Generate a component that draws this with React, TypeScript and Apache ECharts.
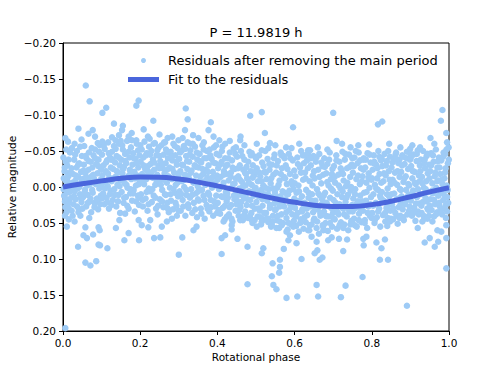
import React, { useEffect, useRef } from "react";
import * as echarts from "echarts";

const TITLE = "P = 11.9819 h";
const SCATTER_NAME = "Residuals after removing the main period";
const FIT_NAME = "Fit to the residuals";
const X_NAME = "Rotational phase";
const Y_NAME = "Relative magnitude";

const fitPhase = [0, 0.05, 0.1, 0.15, 0.2, 0.25, 0.3, 0.35, 0.4, 0.45, 0.5, 0.55, 0.6, 0.65, 0.7, 0.75, 0.8, 0.85, 0.9, 0.95, 1.0];
const fitMag = [0.0, -0.0045, -0.0085, -0.012, -0.0138, -0.0135, -0.011, -0.0068, -0.0015, 0.0045, 0.0105, 0.0163, 0.0213, 0.0252, 0.0272, 0.027, 0.0245, 0.0198, 0.0135, 0.0068, 0.001];

const coreA = [
[.001,-.041],[.002,-.012],[.003,.012],[.004,-.022],[.005,.020],[.006,.028],[.007,-.035],[.008,-.008],[.009,.035],[.010,.008],[.011,-.030],[.012,-.019],[.013,.004],[.014,-.015],[.015,.030],[.016,.019],[.017,-.005],[.018,-.048],[.019,-.002],[.021,.015],[.022,-.026],[.024,.001],
[.026,-.018],[.027,.024],[.029,-.038],[.030,.006],[.032,-.009],[.033,.017],[.035,-.027],[.036,-.050],[.038,.002],[.039,-.014],[.041,.031],[.042,-.033],[.044,.010],[.045,-.004],[.047,-.021],[.048,.021],[.049,-.043],
[.051,-.011],[.052,.014],[.054,-.031],[.055,-.057],[.057,.004],[.058,-.019],[.060,.027],[.061,-.040],[.063,-.002],[.064,.011],[.066,-.024],[.067,-.048],[.069,.020],[.070,-.008],[.072,-.035],[.073,.035],[.074,-.015],
[.076,-.027],[.077,.008],[.079,-.044],[.080,-.012],[.082,.022],[.083,-.052],[.085,-.004],[.086,-.032],[.088,.016],[.089,-.019],[.091,.031],[.092,-.038],[.094,.002],[.095,-.058],[.097,-.010],[.098,.012],[.099,-.024],
[.101,-.045],[.102,-.016],[.104,.009],[.105,-.030],[.107,.024],[.108,-.053],[.110,-.006],[.111,-.022],[.113,.015],[.114,-.037],[.116,-.001],[.117,-.062],[.119,.030],[.120,-.013],[.122,-.041],[.123,.005],[.124,-.027],
[.126,-.008],[.127,-.049],[.129,.018],[.130,-.025],[.132,-.057],[.133,.003],[.135,-.034],[.136,-.014],[.138,.027],[.139,-.043],[.141,-.003],[.142,-.020],[.144,.011],[.145,-.060],[.147,-.030],[.148,.036],[.149,-.010],
[.151,-.038],[.152,.007],[.154,-.019],[.155,-.052],[.157,.022],[.158,-.028],[.160,-.005],[.161,-.046],[.163,.014],[.164,-.033],[.166,-.064],[.167,.001],[.169,-.015],[.170,.030],[.172,-.041],[.173,-.024],[.174,.009],
[.176,-.055],[.177,-.011],[.179,.019],[.180,-.031],[.182,-.047],[.183,.004],[.185,-.021],[.186,.034],[.188,-.039],[.189,-.002],[.191,-.060],[.192,-.016],[.194,.012],[.195,-.027],[.197,.025],[.198,-.044],[.199,-.008],
[.201,-.035],[.202,.010],[.204,-.052],[.205,-.018],[.207,.027],[.208,-.041],[.210,-.004],[.211,-.063],[.213,-.025],[.214,.016],[.216,-.011],[.217,-.047],[.219,.033],[.220,-.029],[.222,.002],[.223,-.056],[.224,-.019],
[.226,.006],[.227,-.032],[.229,-.050],[.230,.021],[.232,-.013],[.233,-.038],[.235,.012],[.236,-.024],[.238,-.061],[.239,-.003],[.241,.030],[.242,-.044],[.244,-.017],[.245,.038],[.247,-.029],[.248,-.055],[.249,-.008],
[.251,.017],[.252,-.036],[.254,-.012],[.255,-.058],[.257,.004],[.258,-.026],[.260,.028],[.261,-.045],[.263,-.019],[.264,.010],[.266,-.033],[.267,-.052],[.269,-.006],[.270,.022],[.272,-.040],[.273,-.015],[.274,.035],
[.276,-.027],[.277,.001],[.279,-.049],[.280,.019],[.282,-.011],[.283,-.037],[.285,.031],[.286,-.060],[.288,-.020],[.289,.008],[.291,-.044],[.292,-.003],[.294,.026],[.295,-.031],[.297,-.054],[.298,.013],[.299,-.016]
];

const coreB = [
[.301,-.039],[.302,.006],[.304,-.022],[.305,.033],[.307,-.050],[.308,-.008],[.310,.018],[.311,-.030],[.313,-.057],[.314,.000],[.316,-.017],[.317,.040],[.319,-.043],[.320,.011],[.322,-.025],[.323,-.062],[.324,.024],
[.326,-.012],[.327,-.035],[.329,.015],[.330,-.051],[.332,.003],[.333,-.023],[.335,.036],[.336,-.042],[.338,-.006],[.339,.022],[.341,-.030],[.342,-.056],[.344,.009],[.345,-.016],[.347,.042],[.348,-.038],[.349,-.001],
[.351,-.027],[.352,.019],[.354,-.046],[.355,-.009],[.357,.030],[.358,-.034],[.360,.004],[.361,-.058],[.363,-.018],[.364,.012],[.366,-.040],[.367,.044],[.369,-.003],[.370,-.024],[.372,.025],[.373,-.050],[.374,-.013],
[.376,.008],[.377,-.030],[.379,.034],[.380,-.052],[.382,-.011],[.383,.018],[.385,-.039],[.386,.001],[.388,-.021],[.389,.040],[.391,-.055],[.392,-.005],[.394,.027],[.395,-.033],[.397,.012],[.398,-.046],[.399,-.016],
[.401,.022],[.402,-.026],[.404,.003],[.405,-.044],[.407,.037],[.408,-.014],[.410,.013],[.411,-.035],[.413,-.056],[.414,.029],[.416,-.006],[.417,-.022],[.419,.045],[.420,-.040],[.422,.007],[.423,-.018],[.424,.020],
[.426,-.031],[.427,.015],[.429,-.009],[.430,.038],[.432,-.048],[.433,.002],[.435,-.020],[.436,.025],[.438,-.037],[.439,.048],[.441,-.004],[.442,-.053],[.444,.017],[.445,-.025],[.447,.033],[.448,-.012],[.449,.006],
[.451,-.042],[.452,.020],[.454,-.015],[.455,.040],[.457,.002],[.458,-.030],[.460,.028],[.461,-.050],[.463,.011],[.464,-.007],[.466,.046],[.467,-.024],[.469,.016],[.470,-.038],[.472,.034],[.473,-.002],[.474,-.018],
[.476,.025],[.477,-.012],[.479,.043],[.480,-.035],[.482,.006],[.483,-.049],[.485,.018],[.486,-.022],[.488,.036],[.489,-.003],[.491,.050],[.492,-.030],[.494,.012],[.495,-.016],[.497,.030],[.498,-.042],[.499,.001],
[.501,.021],[.502,-.026],[.504,.041],[.505,-.008],[.507,.013],[.508,-.044],[.510,.033],[.511,-.015],[.513,.052],[.514,.004],[.516,-.034],[.517,.026],[.519,-.002],[.520,.045],[.522,-.021],[.523,.010],[.524,-.050],
[.526,.036],[.527,-.011],[.529,.019],[.530,-.039],[.532,.049],[.533,.003],[.535,-.024],[.536,.029],[.538,-.005],[.539,.055],[.541,-.031],[.542,.014],[.544,.040],[.545,-.017],[.547,.023],[.548,-.045],[.549,.007],
[.551,.031],[.552,-.020],[.554,.046],[.555,.001],[.557,-.036],[.558,.022],[.560,.057],[.561,-.009],[.563,.013],[.564,-.048],[.566,.038],[.567,-.026],[.569,.006],[.570,.050],[.572,-.014],[.573,.027],[.574,-.040],
[.576,.017],[.577,-.030],[.579,.043],[.580,-.004],[.582,.059],[.583,.010],[.585,-.046],[.586,.032],[.588,-.018],[.589,.024],[.591,.052],[.592,-.008],[.594,.038],[.595,-.037],[.597,.003],[.598,.047],[.599,-.023]
];

const coreC = [
[.601,.029],[.602,-.015],[.604,.054],[.605,.008],[.607,-.041],[.608,.036],[.610,-.002],[.611,.062],[.613,.019],[.614,-.027],[.616,.045],[.617,-.050],[.619,.013],[.620,.031],[.622,-.010],[.623,.058],[.624,-.033],
[.626,.022],[.627,-.020],[.629,.049],[.630,.004],[.632,-.037],[.633,.039],[.635,-.047],[.636,.015],[.638,.060],[.639,-.008],[.641,.027],[.642,-.030],[.644,.052],[.645,.010],[.647,-.016],[.648,.035],[.649,-.043],
[.651,.044],[.652,-.012],[.654,.019],[.655,-.035],[.657,.057],[.658,.003],[.660,.030],[.661,-.024],[.663,.065],[.664,-.046],[.666,.012],[.667,.040],[.669,-.005],[.670,.024],[.672,-.029],[.673,.053],[.674,-.017],
[.676,.034],[.677,-.040],[.679,.008],[.680,.050],[.682,-.019],[.683,.022],[.685,-.032],[.686,.061],[.688,-.002],[.689,.041],[.691,-.048],[.692,.015],[.694,-.011],[.695,.029],[.697,.055],[.698,-.025],[.699,.005],
[.701,.018],[.702,-.029],[.704,.045],[.705,-.006],[.707,.032],[.708,-.044],[.710,.058],[.711,.010],[.713,-.017],[.714,.038],[.716,-.035],[.717,.024],[.719,.002],[.720,.049],[.722,-.022],[.723,.014],[.724,-.049],
[.726,.030],[.727,-.009],[.729,.052],[.730,-.038],[.732,.021],[.733,-.001],[.735,.041],[.736,-.026],[.738,.011],[.739,.060],[.741,-.045],[.742,.034],[.744,-.014],[.745,.005],[.747,.047],[.748,-.031],[.749,.025],
[.751,-.020],[.752,.016],[.754,.044],[.755,-.041],[.757,.003],[.758,.029],[.760,-.011],[.761,.055],[.763,-.033],[.764,.020],[.766,-.048],[.767,.037],[.769,-.004],[.770,.012],[.772,-.026],[.773,.049],[.774,.026],
[.776,-.015],[.777,.033],[.779,-.040],[.780,.008],[.782,.046],[.783,-.027],[.785,.019],[.786,-.006],[.788,.057],[.789,-.047],[.791,.027],[.792,-.019],[.794,.001],[.795,.040],[.797,-.034],[.798,.014],[.799,-.010],
[.801,.036],[.802,-.024],[.804,.010],[.805,-.044],[.807,.050],[.808,-.003],[.810,.022],[.811,-.031],[.813,.042],[.814,-.012],[.816,.004],[.817,-.050],[.819,.030],[.820,-.018],[.822,.055],[.823,.015],[.824,-.037],
[.826,.007],[.827,-.029],[.829,.039],[.830,-.008],[.832,.020],[.833,-.046],[.835,.048],[.836,-.016],[.838,.029],[.839,-.036],[.841,.002],[.842,.043],[.844,-.022],[.845,.013],[.847,-.042],[.848,.033],[.849,-.004],
[.851,-.027],[.852,.024],[.854,-.010],[.855,.045],[.857,-.039],[.858,.009],[.860,-.020],[.861,.036],[.863,-.048],[.864,.017],[.866,-.003],[.867,.051],[.869,-.033],[.870,.028],[.872,-.014],[.873,.003],[.874,.040],
[.876,-.021],[.877,.013],[.879,-.044],[.880,.031],[.882,-.007],[.883,.046],[.885,-.032],[.886,.020],[.888,-.015],[.889,.004],[.891,-.049],[.892,.038],[.894,-.025],[.895,.011],[.897,-.002],[.898,.027],[.899,-.038],
[.901,.019],[.902,-.029],[.904,.040],[.905,-.012],[.907,.005],[.908,-.045],[.910,.029],[.911,-.021],[.913,.047],[.914,-.004],[.916,-.036],[.917,.014],[.919,-.051],[.920,.034],[.922,-.016],[.923,.023],[.924,-.008],
[.926,.010],[.927,-.038],[.929,.036],[.930,-.014],[.932,.021],[.933,-.050],[.935,.001],[.936,.044],[.938,-.026],[.939,.015],[.941,-.008],[.942,-.043],[.944,.030],[.945,-.019],[.947,.007],[.948,.040],[.949,-.031],
[.951,-.022],[.952,.017],[.954,-.047],[.955,.032],[.957,-.005],[.958,.009],[.960,-.035],[.961,.041],[.963,-.015],[.964,.024],[.966,-.052],[.967,.001],[.969,.035],[.970,-.027],[.972,.012],[.973,-.009],[.974,-.041],
[.976,.027],[.977,-.018],[.979,.006],[.980,-.037],[.982,.038],[.983,-.004],[.985,.018],[.986,-.048],[.988,-.012],[.989,.030],[.991,-.026],[.992,.043],[.994,-.002],[.995,.014],[.997,-.033],[.998,.022],[.999,-.055]
];

const coreD = [
[.0015,.003],[.0045,-.027],[.0065,.016],[.0085,-.052],[.0105,-.010],[.0125,.024],[.0145,-.038],[.0165,.007],[.0195,-.020],[.0225,.033],
[.0255,-.006],[.0285,.013],[.0315,-.045],[.0335,-.016],[.0365,.027],[.0395,-.031],[.0425,.000],[.0445,-.056],[.0465,.015],[.0495,-.010],
[.0505,.030],[.0535,-.023],[.0555,.008],[.0585,-.043],[.0615,-.013],[.0645,.022],[.0665,-.036],[.0695,-.004],[.0715,.016],[.0745,-.054],
[.0755,.004],[.0785,-.017],[.0815,.028],[.0835,-.040],[.0865,-.007],[.0895,.019],[.0915,-.029],[.0935,-.049],[.0965,.024],[.0985,-.002],
[.1005,.016],[.1035,-.008],[.1055,-.058],[.1085,.002],[.1115,-.034],[.1145,.021],[.1165,-.019],[.1185,-.047],[.1215,.010],[.1245,-.038],
[.1255,.025],[.1285,-.038],[.1315,-.012],[.1345,.011],[.1365,-.053],[.1395,-.022],[.1425,.020],[.1445,-.041],[.1465,-.001],[.1495,-.064],
[.1505,-.009],[.1535,-.058],[.1555,-.025],[.1585,.015],[.1615,-.036],[.1645,-.003],[.1665,.026],[.1695,-.049],[.1725,-.017],[.1745,.003],
[.1755,-.022],[.1785,-.065],[.1815,.009],[.1835,-.040],[.1865,-.012],[.1895,.020],[.1915,-.033],[.1945,-.051],[.1965,-.004],[.1995,.015],
[.2005,-.058],[.2035,-.008],[.2065,.018],[.2085,-.030],[.2115,-.015],[.2145,-.044],[.2165,.007],[.2195,-.022],[.2215,.024],[.2245,-.067],
[.2255,-.045],[.2285,-.020],[.2315,.003],[.2345,-.060],[.2365,-.034],[.2395,.015],[.2425,-.009],[.2445,-.051],[.2465,.026],[.2495,-.026],
[.2505,-.043],[.2535,-.003],[.2565,.020],[.2585,-.032],[.2615,-.010],[.2645,-.062],[.2665,.011],[.2695,-.024],[.2715,.030],[.2745,-.048],
[.2755,-.013],[.2785,.010],[.2815,-.042],[.2835,-.025],[.2865,.003],[.2895,-.057],[.2915,.022],[.2935,-.035],[.2965,-.006],[.2995,.033],
[.3005,-.019],[.3035,-.048],[.3065,.010],[.3085,-.031],[.3115,.027],[.3145,-.010],[.3165,-.053],[.3195,.004],[.3215,-.036],[.3245,-.016],
[.3255,.029],[.3285,-.045],[.3315,-.020],[.3345,.011],[.3365,-.060],[.3395,-.008],[.3425,.031],[.3445,-.028],[.3465,-.048],[.3495,.017],
[.3505,.006],[.3535,-.036],[.3565,-.015],[.3585,.037],[.3615,-.025],[.3645,-.052],[.3665,.018],[.3695,-.009],[.3715,-.040],[.3745,.030],
[.3755,-.021],[.3785,.011],[.3815,-.044],[.3835,.028],[.3865,-.013],[.3895,-.034],[.3915,.020],[.3935,-.002],[.3965,-.058],[.3995,.036],
[.4005,-.010],[.4035,.032],[.4065,-.031],[.4085,.000],[.4115,-.050],[.4145,.014],[.4165,-.017],[.4195,.026],[.4215,-.029],[.4245,.041],
[.4255,.009],[.4285,-.040],[.4315,.028],[.4345,-.014],[.4365,.044],[.4395,-.027],[.4425,.012],[.4445,-.005],[.4465,-.046],[.4495,.024],
[.4505,.013],[.4535,-.026],[.4565,.032],[.4585,-.010],[.4615,.021],[.4645,-.043],[.4665,-.001],[.4695,.039],[.4715,-.020],[.4745,.009],
[.4755,-.028],[.4785,.017],[.4815,-.006],[.4845,.040],[.4865,-.044],[.4895,.026],[.4915,-.013],[.4945,.005],[.4965,.046],[.4995,-.022],
[.5005,-.040],[.5035,.006],[.5065,.030],[.5085,-.020],[.5115,.042],[.5145,-.008],[.5165,.017],[.5195,-.029],[.5215,.036],[.5245,.001],
[.5255,-.020],[.5285,.044],[.5315,.010],[.5345,-.032],[.5365,.025],[.5395,-.012],[.5425,.048],[.5445,.002],[.5465,-.040],[.5495,.032],
[.5505,.012],[.5535,-.030],[.5565,.040],[.5585,-.003],[.5615,.027],[.5645,-.018],[.5665,.053],[.5695,.020],[.5715,-.043],[.5745,.008],
[.5755,-.012],[.5785,.035],[.5815,-.025],[.5845,.050],[.5865,.005],[.5895,-.040],[.5915,.028],[.5945,-.003],[.5965,.055],[.5995,.016],
[.6005,-.005],[.6035,.041],[.6065,.020],[.6085,-.032],[.6115,.006],[.6145,.050],[.6165,-.020],[.6195,.034],[.6215,-.044],[.6245,.025],
[.6255,.042],[.6285,-.012],[.6315,.030],[.6345,-.026],[.6365,.008],[.6395,.053],[.6425,-.040],[.6445,.019],[.6465,-.002],[.6495,.046],
[.6505,-.022],[.6535,.031],[.6565,-.041],[.6585,.048],[.6615,.009],[.6645,-.014],[.6665,.036],[.6695,-.034],[.6715,.017],[.6745,.060],
[.6755,.012],[.6785,-.028],[.6815,.040],[.6845,-.007],[.6865,.026],[.6895,-.038],[.6915,.050],[.6945,.002],[.6965,-.018],[.6995,.036],
[.7005,.044],[.7035,-.014],[.7065,.022],[.7085,-.037],[.7115,.035],[.7145,-.002],[.7165,.053],[.7195,-.026],[.7215,.028],[.7245,.006],
[.7255,-.018],[.7285,.038],[.7315,-.046],[.7345,.015],[.7365,-.006],[.7395,.030],[.7425,-.028],[.7445,.052],[.7465,.000],[.7495,-.040],
[.7505,.034],[.7535,-.029],[.7565,.010],[.7585,-.050],[.7615,.023],[.7645,-.016],[.7665,.046],[.7695,-.037],[.7715,.031],[.7745,-.008],
[.7755,.020],[.7785,-.024],[.7815,.050],[.7845,-.038],[.7865,.007],[.7895,.036],[.7915,-.013],[.7945,-.045],[.7965,.024],[.7995,.043],
[.8005,-.012],[.8035,.026],[.8065,-.035],[.8085,.045],[.8115,.002],[.8145,-.026],[.8165,.034],[.8195,-.042],[.8215,.012],[.8245,-.006],
[.8255,-.040],[.8285,.018],[.8315,-.019],[.8345,.036],[.8365,-.030],[.8395,.010],[.8425,-.050],[.8445,.025],[.8465,-.010],[.8495,.044],
[.8505,.010],[.8535,-.034],[.8565,.030],[.8585,-.006],[.8615,-.045],[.8645,.040],[.8665,-.022],[.8695,.016],[.8715,-.038],[.8745,.024],
[.8755,.004],[.8785,-.030],[.8815,.042],[.8845,-.012],[.8865,.024],[.8895,-.040],[.8915,.015],[.8945,-.004],[.8965,.033],[.8995,-.053],
[.9005,-.040],[.9035,.009],[.9065,-.022],[.9085,.036],[.9115,-.006],[.9145,.023],[.9165,-.046],[.9195,.003],[.9215,.038],[.9245,-.030],
[.9255,-.022],[.9285,.026],[.9315,-.005],[.9345,.040],[.9365,-.033],[.9395,.003],[.9425,.020],[.9445,-.046],[.9465,.032],[.9495,-.012],
[.9505,.026],[.9535,-.030],[.9565,.005],[.9585,-.044],[.9615,.018],[.9645,-.020],[.9665,.038],[.9695,-.008],[.9715,-.036],[.9745,.022],
[.9755,-.027],[.9785,.033],[.9815,-.010],[.9845,-.042],[.9865,.010],[.9895,-.020],[.9915,.025],[.9935,-.052],[.9965,.004],[.9995,-.038]
];

const outliersUp = [
[.059,-.141],[.069,-.119],[.102,-.103],[.112,-.110],[.196,-.120],[.190,-.113],[.318,-.109],[.040,-.081],[.077,-.079],[.066,-.074],[.132,-.088],[.155,-.085],[.153,-.079],[.178,-.075],[.234,-.092],[.209,-.080],[.271,-.068],[.323,-.094],[.299,-.065],[.013,-.063],[.023,-.054],[.102,-.063],[.090,-.061],[.127,-.069],[.136,-.065],[.190,-.065],
[.383,-.090],[.485,-.099],[.515,-.104],[.523,-.075],[.596,-.083],[.460,-.070],[.459,-.065],[.536,-.061],[.532,-.054],[.635,-.051],[.627,-.044],[.316,-.079],[.337,-.072],[.351,-.068],[.377,-.079],[.390,-.070],[.420,-.060],[.448,-.055],[.489,-.047],[.515,-.051],[.566,-.044],[.592,-.054],
[.700,-.103],[.816,-.087],[.827,-.091],[.709,-.064],[.723,-.060],[.793,-.059],[.874,-.055],[.983,-.107],[.979,-.092],[.993,-.075],[.952,-.068],[.900,-.046],[.881,-.042],[.864,-.038],[.823,-.039],[.805,-.033],[.778,-.038],[.937,-.038],[.990,-.046],[.640,-.051],[.640,-.040],
[.006,-.068],[.030,-.060],[.048,-.066],[.083,-.070],[.145,-.072],[.170,-.070],[.220,-.070],[.250,-.073],[.262,-.062],[.283,-.070],[.310,-.068],[.330,-.060],[.365,-.062],[.405,-.065],[.432,-.064],[.470,-.058],[.502,-.060],[.550,-.058],[.578,-.055],[.612,-.060],[.660,-.055],[.685,-.052],[.745,-.055],[.765,-.058],[.845,-.060],[.905,-.058],[.925,-.055],[.962,-.060],[.995,-.062]
];

const outliersDown = [
[.010,.055],[.058,.056],[.053,.067],[.062,.071],[.039,.083],[.078,.066],[.092,.056],[.095,.060],[.092,.080],[.096,.081],[.115,.085],[.058,.105],[.071,.109],[.086,.103],[.068,.043],[.137,.057],[.146,.046],[.161,.037],[.170,.064],[.159,.074],[.197,.074],[.196,.046],[.204,.053],[.221,.056],[.226,.046],[.236,.071],[.252,.070],[.256,.055],[.269,.048],[.282,.044],[.295,.040],[.309,.070],[.300,.094],[.006,.196],
[.015,.045],[.030,.048],[.045,.040],[.005,.040],[.025,.040],[.040,.035],
[.411,.093],[.452,.072],[.411,.071],[.420,.067],[.478,.083],[.478,.135],[.515,.092],[.519,.085],[.541,.124],[.545,.136],[.553,.142],[.543,.106],[.562,.101],[.562,.111],[.560,.119],[.579,.154],[.607,.152],[.572,.086],[.584,.074],[.588,.067],[.579,.062],[.618,.100],[.605,.078],[.635,.060],[.644,.069],[.657,.076],[.659,.088],[.657,.136],[.661,.152],[.338,.060],[.346,.055],
[.416,.048],[.437,.053],[.437,.059],[.459,.046],[.467,.041],[.489,.046],[.502,.055],[.515,.048],[.532,.044],[.541,.053],[.553,.057],[.562,.048],
[.732,.137],[.720,.153],[.776,.125],[.891,.165],[.993,.113],[.726,.089],[.665,.101],[.672,.098],[.652,.092],[.687,.074],[.696,.070],[.715,.072],[.736,.073],[.778,.072],[.786,.069],[.779,.081],[.812,.077],[.825,.085],[.834,.073],[.821,.101],[.842,.101],[.937,.077],[.950,.071],[.963,.083],[.972,.076],[.980,.062],[.993,.071],[.872,.043],[.840,.054],[.847,.048],[.726,.057],[.748,.048],[.756,.053],[.674,.055],[.683,.041],[.919,.057],[.931,.048],[.944,.044],[.957,.048],[.970,.060],[.993,.053],[.995,.034]
];

const FONT = "DejaVu Sans";
const SCATTER_COLOR = "#9ecbf6";
const FIT_COLOR = "#4a66dc";

const fmtY = (v: number) => {
  const s = Math.abs(v).toFixed(2);
  return v < -1e-9 ? "\u2212" + s : s;
};

export default function App() {
  const ref = useRef<HTMLDivElement>(null);
  useEffect(() => {
    if (!ref.current) return;
    const chart = echarts.init(ref.current, undefined, { renderer: "svg" });
    const residuals = [...coreA, ...coreB, ...coreC, ...coreD, ...outliersUp, ...outliersDown];
    const fit = fitPhase.map((p, i) => [p, fitMag[i]]);
    chart.setOption({
      animation: false,
      backgroundColor: "#ffffff",
      title: {
        text: TITLE,
        left: 256,
        textAlign: "center",
        top: 24,
        padding: 0,
        textStyle: { fontFamily: FONT, fontSize: 13, fontWeight: "normal", color: "#000", lineHeight: 16 },
      },
      legend: {
        orient: "vertical",
        left: 128,
        top: 53,
        padding: 0,
        itemWidth: 31,
        itemHeight: 5,
        itemGap: 4,
        textStyle: { fontFamily: FONT, fontSize: 13, color: "#000", lineHeight: 15, padding: [0, 0, 0, 4] },
        data: [
          { name: SCATTER_NAME, icon: "circle" },
          { name: FIT_NAME, icon: "rect" },
        ],
      },
      grid: {
        left: 63,
        top: 43,
        width: 386,
        height: 288,
        show: true,
        borderColor: "#000",
        borderWidth: 1,
        containLabel: false,
        outerBoundsMode: "none",
      },
      xAxis: {
        type: "value",
        min: 0,
        max: 1,
        interval: 0.2,
        name: X_NAME,
        nameLocation: "middle",
        nameGap: 20,
        nameMoveOverlap: false,
        nameTextStyle: { fontFamily: FONT, fontSize: 10.5, color: "#000" },
        axisLine: { show: true, onZero: false, lineStyle: { color: "#000", width: 1 } },
        axisTick: { show: true, inside: false, length: 4, lineStyle: { color: "#000" } },
        axisLabel: { fontFamily: FONT, fontSize: 10.5, color: "#000", margin: 6, formatter: (v: number) => v.toFixed(1) },
        splitLine: { show: false },
      },
      yAxis: {
        type: "value",
        inverse: true,
        min: -0.2,
        max: 0.2,
        interval: 0.05,
        name: Y_NAME,
        nameLocation: "middle",
        nameGap: 46,
        nameMoveOverlap: false,
        nameTextStyle: { fontFamily: FONT, fontSize: 10.5, color: "#000" },
        axisLine: { show: true, onZero: false, lineStyle: { color: "#000", width: 1 } },
        axisTick: { show: true, inside: false, length: 4, lineStyle: { color: "#000" } },
        axisLabel: { fontFamily: FONT, fontSize: 10.5, color: "#000", margin: 7, formatter: fmtY },
        splitLine: { show: false },
      },
      series: [
        {
          name: SCATTER_NAME,
          type: "scatter",
          data: residuals,
          symbol: "circle",
          symbolSize: 6.5,
          itemStyle: { color: SCATTER_COLOR, opacity: 1 },
          z: 2,
        },
        {
          name: FIT_NAME,
          type: "line",
          data: fit,
          smooth: true,
          showSymbol: false,
          lineStyle: { color: FIT_COLOR, width: 5 },
          itemStyle: { color: FIT_COLOR },
          z: 3,
        },
      ],
    });
    return () => chart.dispose();
  }, []);
  return (
    <div
      ref={ref}
      style={{ position: "fixed", left: 0, top: 0, width: 499, height: 373, background: "#fff" }}
    />
  );
}
